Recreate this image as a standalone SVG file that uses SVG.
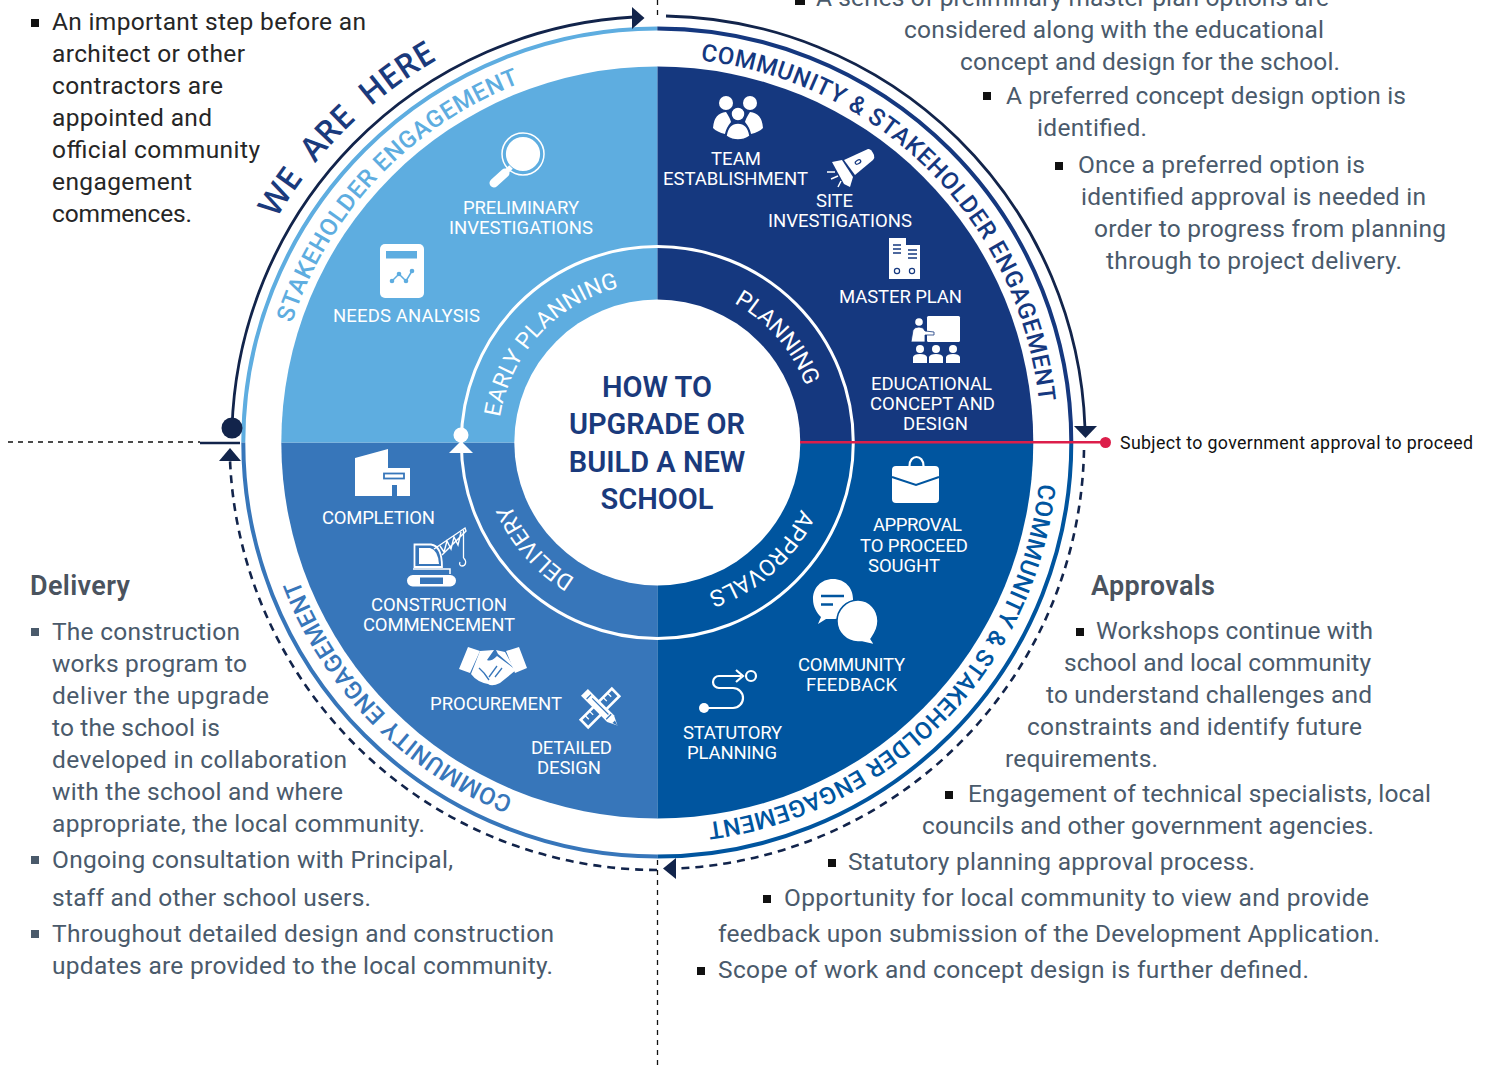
<svg xmlns="http://www.w3.org/2000/svg" width="1488" height="1072" viewBox="0 0 1488 1072">
<style>
text{font-family:Roboto,"Liberation Sans",sans-serif}
.b{font-size:24.5px;fill:#4a5a6b}
.k{font-size:24.5px;fill:#262626}
.h{font-size:27px;font-weight:600;fill:#4a535e}
.l{font-size:18.5px;fill:#fff}
.r{font-size:23px;font-weight:400;fill:#fff}
.o{font-size:24px;font-weight:500}
.c{font-size:29px;font-weight:600;fill:#1a3a7c;text-anchor:middle}
.sq{fill:#111}
.i{fill:#fff}
.iw{fill:none;stroke:#fff;stroke-width:2.2}
.dash{fill:none;stroke:#12244b;stroke-width:2.6;stroke-dasharray:8 6}
.sol{fill:none;stroke:#12244b;stroke-width:2.8}
.ah{fill:#12244b}
.thin{stroke:#111;stroke-width:1.3;stroke-dasharray:5 5;fill:none}
</style>
<defs>
<path id="pTR" d="M700.5 60.5A384 384 0 0 1 1041 442"/>
<path id="pBR" d="M1038.9 483.500A384 384 0 0 1 657 826"/>
<path id="pBL" d="M513.2 798A384 384 0 0 1 273 442"/>
<path id="pTL" d="M291.8 323.3A384 384 0 0 1 657 58"/>
<path id="pWE" d="M276.6 218.9A441 441 0 0 1 657 1"/>
<path id="p1" d="M734.1 303A159 159 0 0 1 816 442"/>
<path id="p2" d="M801.1 509.2A159 159 0 0 1 657 601"/>
<path id="p3" d="M575.1 578.3A159 159 0 0 1 498 442"/>
<path id="p4" d="M500 417.1A159 159 0 0 1 657 283"/>
</defs>
<rect width="1488" height="1072" fill="#fff"/>

<g id="wheel">
<path d="M657.3 442.5V66.5A376 376 0 0 1 1033.3 442.5Z" fill="#15387f"/>
<path d="M657.3 442.5H1033.3A376 376 0 0 1 657.3 818.5Z" fill="#00559f"/>
<path d="M657.3 442.5V818.5A376 376 0 0 1 281.3 442.5Z" fill="#3776ba"/>
<path d="M657.3 442.5H281.3A376 376 0 0 1 657.3 66.5Z" fill="#5eade0"/>
<circle cx="657.3" cy="442.5" r="196" fill="none" stroke="#fff" stroke-width="3"/>
<circle cx="657.3" cy="442.5" r="143" fill="#fff"/>
<g fill="none" stroke-width="4">
<path d="M243.3 442.5A414 414 0 0 1 657.3 28.5" stroke="#5eade0"/>
<path d="M657.3 28.5A414 414 0 0 1 1071.3 442.5" stroke="#15387f"/>
<path d="M1071.3 442.5A414 414 0 0 1 657.3 856.5" stroke="#00559f"/>
<path d="M657.3 856.5A414 414 0 0 1 243.3 442.5" stroke="#3776ba"/>
</g>
<circle cx="461" cy="435" r="7.5" fill="#fff"/>
<path d="M461 441L473 453H449Z" fill="#fff"/>
</g>

<g id="ring-labels">
<text class="o" fill="#15387f"><textPath href="#pTR" textLength="519">COMMUNITY &amp; STAKEHOLDER ENGAGEMENT</textPath></text>
<text class="o" fill="#00559f"><textPath href="#pBR" textLength="511">COMMUNITY &amp; STAKEHOLDER ENGAGEMENT</textPath></text>
<text class="o" fill="#3776ba"><textPath href="#pBL" textLength="315">COMMUNITY ENGAGEMENT</textPath></text>
<text class="o" fill="#5eade0"><textPath href="#pTL" textLength="342">STAKEHOLDER ENGAGEMENT</textPath></text>
<text font-size="33" font-weight="600" fill="#1a3a7c" style="font-family:'Open Sans',sans-serif"><textPath href="#pWE" textLength="229" word-spacing="10">WE  ARE  HERE</textPath></text>
<text class="r"><textPath href="#p1" textLength="112">PLANNING</textPath></text>
<text class="r"><textPath href="#p2" textLength="128">APPROVALS</textPath></text>
<text class="r"><textPath href="#p3" textLength="100">DELIVERY</textPath></text>
<text class="r"><textPath href="#p4" textLength="186">EARLY PLANNING</textPath></text>
</g>

<g id="center">
<text class="c" x="657" y="396.700">HOW TO</text>
<text class="c" x="657" y="433.700">UPGRADE OR</text>
<text class="c" x="657" y="471.700">BUILD A NEW</text>
<text class="c" x="657" y="508.700">SCHOOL</text>
</g>

<g id="connectors">
<path class="thin" d="M8 442H200"/>
<path class="thin" d="M657.5 0V18M657.5 860V1070"/>
<path d="M200 443H240" stroke="#12244b" stroke-width="2.4"/>
<path class="sol" d="M232 428A425.5 425.5 0 0 1 634 17"/>
<path class="ah" d="M644.5 18L632 7V29Z"/>
<circle class="ah" cx="232" cy="428" r="10.5"/>
<path class="sol" d="M666 16A427 427 0 0 1 1085 428"/>
<path class="ah" d="M1074 426H1097L1085.500 438Z"/>
<path class="dash" d="M1084 450A427 427 0 0 1 677 868.500"/>
<path class="ah" d="M663 868.500L676 858V879Z"/>
<path class="dash" d="M657 870A428 428 0 0 1 230 460"/>
<path class="ah" d="M230 448L241 461H219Z"/>
<path d="M800 442.300H1105" stroke="#dc1e4a" stroke-width="2.600"/>
<circle cx="1105.500" cy="442.500" r="5.500" fill="#dc1e4a"/>
</g>

<g id="n-team">
<circle class="i" cx="726" cy="103" r="7"/><circle class="i" cx="750" cy="103" r="7"/>
<path class="i" d="M713 128Q714 113 726 112Q730 118 731 122Q726 128 725 134Q717 132 713 128ZM763 128Q762 113 750 112Q746 118 745 122Q750 128 751 134Q759 132 763 128Z"/>
<circle class="i" cx="738" cy="114" r="7" stroke="#15387f" stroke-width="1.500"/>
<path class="i" d="M726 136Q728 123 738 123Q748 123 750 136Q738 144 726 136Z" stroke="#15387f" stroke-width="1.500"/>
<text class="l" x="711" y="165" textLength="50">TEAM</text>
<text class="l" x="663" y="185" textLength="145">ESTABLISHMENT</text>
</g>
<g id="n-site">
<path class="i" d="M832 162L842 160L853 177L850 187L844 184Z"/>
<path class="i" d="M844 160L868 149Q871 148 874 155Q875 158 873 160L855 175Z"/>
<ellipse cx="858" cy="162" rx="3" ry="1.800" transform="rotate(-30 858 162)" fill="none" stroke="#15387f" stroke-width="1.200"/>
<path d="M827 172H835M831 179L838 176M838 187L841 181" stroke="#fff" stroke-width="1.500"/>
<text class="l" x="816" y="207" textLength="37">SITE</text>
<text class="l" x="768" y="227" textLength="144">INVESTIGATIONS</text>
</g>
<g id="n-master">
<path class="i" d="M889 238H906V245H920V279H889Z"/>
<path d="M893 245H901M893 249H901M893 253H901M908 250H917M908 254H917M908 258H917" stroke="#15387f" stroke-width="1.300"/>
<circle cx="897" cy="271" r="2.600" fill="none" stroke="#15387f" stroke-width="1.200"/><circle cx="912" cy="271" r="2.600" fill="none" stroke="#15387f" stroke-width="1.200"/>
<text class="l" x="839" y="303" textLength="123">MASTER PLAN</text>
</g>
<g id="n-edu">
<rect class="i" x="927" y="316" width="33" height="26" rx="1.500"/>
<circle class="i" cx="919" cy="322" r="3.800"/>
<path class="i" d="M911 342L913 330Q915 327 919 327L923 328L925 331L934 332V335H925V342Z" stroke="#15387f" stroke-width=".8"/>
<g class="i"><circle cx="920" cy="349" r="4"/><circle cx="936" cy="349" r="4"/><circle cx="953" cy="349" r="4"/>
<path d="M913 363V357Q914 354 920 354Q926 354 927 357V363ZM929 363V357Q930 354 936 354Q942 354 943 357V363ZM946 363V357Q947 354 953 354Q959 354 960 357V363Z"/></g>
<text class="l" x="871" y="390" textLength="121">EDUCATIONAL</text>
<text class="l" x="870" y="410" textLength="125">CONCEPT AND</text>
<text class="l" x="903" y="430" textLength="65">DESIGN</text>
</g>
<g id="n-prelim">
<circle cx="523" cy="154" r="21" fill="none" stroke="#fff" stroke-width="1.500"/>
<circle cx="523" cy="154" r="18" fill="#fff" stroke="#5eade0" stroke-width="1.800"/>
<path d="M511 167L507 171" stroke="#fff" stroke-width="5"/>
<path d="M505 173L494 183" stroke="#fff" stroke-width="9" stroke-linecap="round"/>
<text class="l" x="463" y="214" textLength="116">PRELIMINARY</text>
<text class="l" x="449" y="234" textLength="144">INVESTIGATIONS</text>
</g>
<g id="n-needs">
<rect class="i" x="380" y="244" width="44" height="54" rx="5"/>
<rect x="386" y="251" width="31" height="7.500" fill="#5eade0"/>
<path d="M392 281L399 274L406 281L412 271" fill="none" stroke="#5eade0" stroke-width="1.500"/>
<g fill="#5eade0"><circle cx="392" cy="281" r="2.300"/><circle cx="399" cy="274" r="2.300"/><circle cx="406" cy="281" r="2.300"/><circle cx="412" cy="271" r="2.300"/></g>
<text class="l" x="333" y="322" textLength="147">NEEDS ANALYSIS</text>
</g>
<g id="n-completion">
<path class="i" d="M355 458L388 449V468H410V496H397V485H392V496H355Z"/>
<rect x="384" y="473.500" width="20" height="5" fill="#fff" stroke="#3776ba" stroke-width="1.800"/>
<text class="l" x="322" y="524" textLength="113">COMPLETION</text>
</g>
<g id="n-construction">
<path class="iw" style="stroke-width:1.800" d="M414.500 567V544.500H431Q442 546 442 567Z"/>
<path class="i" d="M419 548H430Q438 550 439 564H419Z"/>
<path class="iw" style="stroke-width:1.500" d="M413 569H450V574"/>
<rect class="i" x="407" y="575" width="49" height="11.500" rx="5.700"/>
<path d="M420 577.500H443V584H420Z" fill="#3776ba"/>
<path class="iw" style="stroke-width:1.400" d="M434 549L465 528L466 531L442 555M440 546L444 552L447 541L451 549L454 537L458 545L461 532"/>
<path class="iw" style="stroke-width:1.300" d="M463.500 530V558M463.500 558C467 561 466 566 462 566C460 566 459 564 460 562"/>
<text class="l" x="371" y="611" textLength="136">CONSTRUCTION</text>
<text class="l" x="363" y="631" textLength="152">COMMENCEMENT</text>
</g>
<g id="n-procurement">
<path class="i" d="M468 647L459 669L470 673L480 651ZM519 647L527 668L515 673L506 651Z"/>
<path class="i" d="M480 651L494 650L487 660Q491 662 497 656L516 670L500 683Q492 687 488 684Q477 682 471 674ZM496 650L505 652L514 668L498 654Z"/>
<path d="M502 668L495 677M497 666L489 677M484 673L489 680M479 668L484 673" stroke="#3776ba" stroke-width="1.300" fill="none"/>
<text class="l" x="430" y="710" textLength="132">PROCUREMENT</text>
</g>
<g id="n-detailed">
<g transform="translate(600,708) rotate(-45) scale(.88)">
<rect x="-25" y="-6" width="50" height="12" fill="#3776ba" stroke="#fff" stroke-width="3"/>
<path d="M-18-6V0M-11-6V0M-4-6V0M4-6V0M11-6V0M18-6V0" stroke="#fff" stroke-width="1.500"/>
</g>
<g transform="translate(600,708) rotate(45) scale(.88)">
<path d="M-25-5.500H17L28 0L17 5.500H-25Z" class="i"/>
<path d="M-18 -3.500V3.500M14-4V4M-14-1.500H12" stroke="#3776ba" stroke-width="1.400"/>
<path d="M22-2L28 0L22 2Z" fill="#3776ba"/>
</g>
<text class="l" x="531" y="754" textLength="81">DETAILED</text>
<text class="l" x="537" y="774" textLength="64">DESIGN</text>
</g>
<g id="n-statutory">
<circle class="i" cx="704" cy="708" r="5"/>
<path class="iw" d="M704 708H733A10 10 0 0 0 733 688H719A6 6 0 0 1 719 676H741M736 670L743 676L736 682"/>
<circle cx="751" cy="676" r="5" fill="none" stroke="#fff" stroke-width="2.200"/>
<text class="l" x="683" y="739" textLength="99">STATUTORY</text>
<text class="l" x="687" y="759" textLength="90">PLANNING</text>
</g>
<g id="n-feedback">
<path class="i" d="M833 579C845 579 853 588 853 599C853 610 845 619 833 619H826L818 624L821 617C817 613 813 607 813 599C813 588 821 579 833 579Z"/>
<path d="M821 596H844M821 604.500H833" stroke="#00559f" stroke-width="2.500"/>
<path class="i" d="M858 600C870 600 878 610 878 621C878 630 873 636 871 639L875 645L862 642L858 642C846 642 837 632 837 621C837 610 846 600 858 600Z" stroke="#00559f" stroke-width="1.500"/>
<text class="l" x="798" y="671" textLength="107">COMMUNITY</text>
<text class="l" x="806" y="691" textLength="91">FEEDBACK</text>
</g>
<g id="n-approval">
<path d="M909.500 466C909.500 454 923.500 454 923.500 466" class="iw"/>
<rect class="i" x="892" y="466" width="47" height="37" rx="4"/>
<path d="M892 477L916 485L939 477" fill="none" stroke="#00559f" stroke-width="2"/>
<text class="l" x="873" y="531" textLength="89">APPROVAL</text>
<text class="l" x="860" y="552" textLength="108">TO PROCEED</text>
<text class="l" x="868" y="572" textLength="72">SOUGHT</text>
</g>

<g id="note-subject">
<text x="1120" y="449" font-size="17.800" fill="#111" textLength="353">Subject to government approval to proceed</text>
</g>

<g id="text-early">
<rect class="sq" x="31" y="19" width="8" height="8"/>
<text class="k" x="52" y="30" textLength="314">An important step before an</text>
<text class="k" x="52" y="62" textLength="193">architect or other</text>
<text class="k" x="52" y="94" textLength="171">contractors are</text>
<text class="k" x="52" y="126" textLength="160">appointed and</text>
<text class="k" x="52" y="158" textLength="208">official community</text>
<text class="k" x="52" y="190" textLength="140">engagement</text>
<text class="k" x="52" y="222" textLength="140">commences.</text>
</g>
<g id="text-planning">
<rect class="sq" x="795" y="0" width="10" height="5"/>
<text class="b" x="816" y="6" textLength="513">A series of preliminary master plan options are</text>
<text class="b" x="904" y="38" textLength="420">considered along with the educational</text>
<text class="b" x="960" y="70" textLength="380">concept and design for the school.</text>
<rect class="sq" x="983" y="92" width="8" height="8"/>
<text class="b" x="1006" y="104" textLength="400">A preferred concept design option is</text>
<text class="b" x="1037" y="136" textLength="110">identified.</text>
<rect class="sq" x="1055" y="162" width="8" height="8"/>
<text class="b" x="1078" y="173" textLength="287">Once a preferred option is</text>
<text class="b" x="1081" y="205" textLength="345">identified approval is needed in</text>
<text class="b" x="1094" y="237" textLength="352">order to progress from planning</text>
<text class="b" x="1106" y="269" textLength="296">through to project delivery.</text>
</g>
<g id="text-delivery">
<text class="h" x="30" y="595" textLength="100">Delivery</text>
<g fill="#4a5a6b"><rect x="31" y="628" width="8" height="8"/><rect x="31" y="856" width="8" height="8"/><rect x="31" y="930" width="8" height="8"/></g>
<text class="b" x="52" y="640" textLength="188">The construction</text>
<text class="b" x="52" y="672" textLength="195">works program to</text>
<text class="b" x="52" y="704" textLength="217">deliver the upgrade</text>
<text class="b" x="52" y="736" textLength="168">to the school is</text>
<text class="b" x="52" y="768" textLength="295">developed in collaboration</text>
<text class="b" x="52" y="800" textLength="291">with the school and where</text>
<text class="b" x="52" y="832" textLength="373">appropriate, the local community.</text>
<text class="b" x="52" y="868" textLength="401">Ongoing consultation with Principal,</text>
<text class="b" x="52" y="906" textLength="319">staff and other school users.</text>
<text class="b" x="52" y="942" textLength="502">Throughout detailed design and construction</text>
<text class="b" x="52" y="974" textLength="501">updates are provided to the local community.</text>
</g>
<g id="text-approvals">
<text class="h" x="1091" y="595" textLength="124">Approvals</text>
<rect class="sq" x="1076" y="628" width="8" height="8"/>
<text class="b" x="1096" y="639" textLength="277">Workshops continue with</text>
<text class="b" x="1064" y="671" textLength="307">school and local community</text>
<text class="b" x="1046" y="703" textLength="326">to understand challenges and</text>
<text class="b" x="1027" y="735" textLength="335">constraints and identify future</text>
<text class="b" x="1005" y="767" textLength="153">requirements.</text>
<rect class="sq" x="945" y="791" width="8" height="8"/>
<text class="b" x="968" y="802" textLength="463">Engagement of technical specialists, local</text>
<text class="b" x="922" y="834" textLength="452">councils and other government agencies.</text>
<rect class="sq" x="828" y="859" width="8" height="8"/>
<text class="b" x="848" y="870" textLength="407">Statutory planning approval process.</text>
<rect class="sq" x="763" y="895" width="8" height="8"/>
<text class="b" x="784" y="906" textLength="585">Opportunity for local community to view and provide</text>
<text class="b" x="718" y="942" textLength="662">feedback upon submission of the Development Application.</text>
<rect class="sq" x="697" y="967" width="8" height="8"/>
<text class="b" x="718" y="978" textLength="591">Scope of work and concept design is further defined.</text>
</g>
</svg>
